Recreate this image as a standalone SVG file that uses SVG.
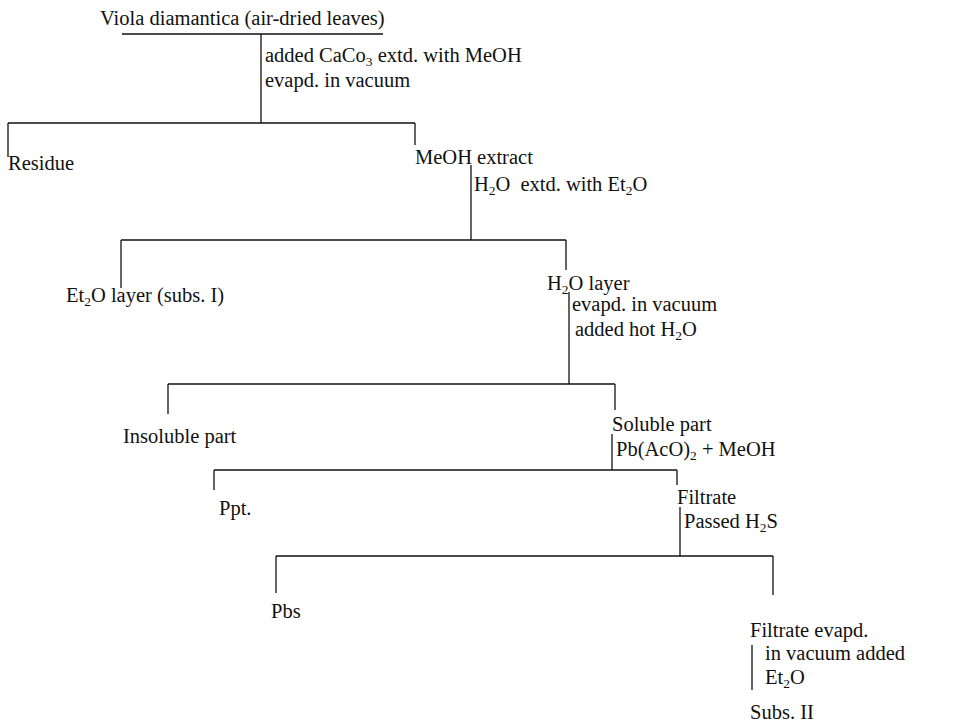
<svg xmlns="http://www.w3.org/2000/svg" width="967" height="723" viewBox="0 0 967 723">
<style>
text{font-family:"Liberation Serif","Times New Roman",serif;font-size:20.5px;fill:#111}
.sub{font-size:13.5px}
.c line{stroke:#111;stroke-width:1.3}
</style>
<rect width="967" height="723" fill="#fff"/>
<g class="c" id="connectors">
<line x1="122" y1="34" x2="383" y2="34"/>
<line x1="261" y1="34" x2="261" y2="123"/>
<line x1="8" y1="123" x2="415" y2="123"/>
<line x1="8" y1="123" x2="8" y2="157"/>
<line x1="415" y1="123" x2="415" y2="145"/>
<line x1="471" y1="165" x2="471" y2="240"/>
<line x1="121" y1="240" x2="566" y2="240"/>
<line x1="121" y1="240" x2="121" y2="288"/>
<line x1="566" y1="240" x2="566" y2="270"/>
<line x1="569" y1="292" x2="569" y2="384"/>
<line x1="168" y1="384" x2="615" y2="384"/>
<line x1="168" y1="384" x2="168" y2="414"/>
<line x1="615" y1="384" x2="615" y2="410"/>
<line x1="612" y1="434" x2="612" y2="470"/>
<line x1="214" y1="470" x2="677" y2="470"/>
<line x1="214" y1="470" x2="214" y2="490"/>
<line x1="677" y1="470" x2="677" y2="485"/>
<line x1="680" y1="507" x2="680" y2="556"/>
<line x1="276" y1="556" x2="773" y2="556"/>
<line x1="276" y1="556" x2="276" y2="593"/>
<line x1="773" y1="556" x2="773" y2="595"/>
<line x1="752" y1="645" x2="752" y2="690"/>
</g>
<g id="n-viola"><text x="100" y="25">Viola diamantica (air-dried leaves)</text></g>
<g id="l-1"><text x="265" y="62">added CaCo<tspan class="sub" dy="4">3</tspan><tspan dy="-4"> extd. with MeOH</tspan></text><text x="265" y="87">evapd. in vacuum</text></g>
<g id="n-residue"><text x="8" y="170">Residue</text></g>
<g id="n-meoh"><text x="415" y="164">MeOH extract</text></g>
<g id="l-2"><text x="474" y="191">H<tspan class="sub" dy="4">2</tspan><tspan dy="-4">O</tspan><tspan dx="10">extd. with Et</tspan><tspan class="sub" dy="4">2</tspan><tspan dy="-4">O</tspan></text></g>
<g id="n-et2o"><text x="66" y="302">Et<tspan class="sub" dy="4">2</tspan><tspan dy="-4">O layer (subs. I)</tspan></text></g>
<g id="n-h2o"><text x="547" y="290">H<tspan class="sub" dy="4">2</tspan><tspan dy="-4">O layer</tspan></text></g>
<g id="l-3"><text x="572" y="311">evapd. in vacuum</text><text x="575" y="336">added hot H<tspan class="sub" dy="4">2</tspan><tspan dy="-4">O</tspan></text></g>
<g id="n-insoluble"><text x="123" y="443">Insoluble part</text></g>
<g id="n-soluble"><text x="612" y="431">Soluble part</text></g>
<g id="l-4"><text x="616" y="456">Pb(AcO)<tspan class="sub" dy="4">2</tspan><tspan dy="-4"> + MeOH</tspan></text></g>
<g id="n-ppt"><text x="219" y="515">Ppt.</text></g>
<g id="n-filtrate"><text x="677" y="504">Filtrate</text></g>
<g id="l-5"><text x="684" y="528">Passed H<tspan class="sub" dy="4">2</tspan><tspan dy="-4">S</tspan></text></g>
<g id="n-pbs"><text x="271" y="618">Pbs</text></g>
<g id="n-filtrate2"><text x="750" y="637">Filtrate evapd.</text></g>
<g id="l-6"><text x="765" y="660">in vacuum added</text><text x="765" y="684">Et<tspan class="sub" dy="4">2</tspan><tspan dy="-4">O</tspan></text></g>
<g id="n-subs2"><text x="750" y="719">Subs. II</text></g>
</svg>
